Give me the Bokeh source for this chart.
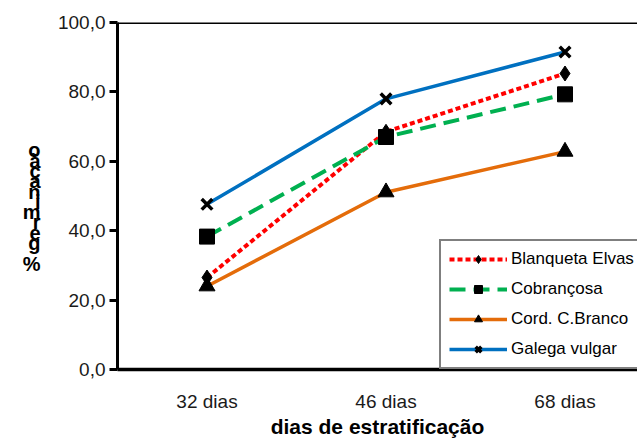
from bokeh.plotting import figure
from bokeh.models import (Range1d, FixedTicker, Span, Legend, LegendItem, LinearAxis,
                          AllLabels)
from bokeh.embed import file_html
from bokeh.resources import INLINE

# Germination (%) per variety after each stratification period
periods = ["32 dias", "46 dias", "68 dias"]
blanqueta_elvas = [26.5, 68.5, 85.3]
cobrancosa = [38.3, 67.0, 79.3]
cord_c_branco = [24.0, 51.1, 62.8]
galega_vulgar = [47.6, 78.0, 91.5]

y_ticks = [0, 20, 40, 60, 80, 100]
y_title = "% germinação"
x_title = "dias de estratificação"

FONT = "Liberation Sans"

xs = [i + 0.5 for i in range(len(periods))]

p = figure(width=637, height=440, output_backend="svg", toolbar_location=None,
           x_range=Range1d(0, 2.905), y_range=Range1d(0, 100),
           min_border_left=117, min_border_right=0, min_border_top=22,
           min_border_bottom=64)
p.outline_line_color = None
p.grid.grid_line_color = None
p.background_fill_color = "white"

# y axis
p.yaxis.ticker = FixedTicker(ticks=y_ticks)
p.yaxis.major_label_overrides = {t: f"{t:.1f}".replace(".", ",") for t in y_ticks}
p.yaxis.axis_line_width = 3
p.yaxis.major_tick_line_width = 3
p.yaxis.major_tick_out = 8
p.yaxis.major_tick_in = 0
p.yaxis.minor_tick_line_color = None
p.yaxis.major_label_standoff = 4
p.yaxis.major_label_text_font = FONT
p.yaxis.major_label_text_font_size = "19px"
p.yaxis.major_label_text_color = "#1a1a1a"

# y title: characters stacked upwards, one per tick of an outer axis
unit = 100 / 354.0  # data units per pixel on the y scale
char_pos = {}
for i, ch in enumerate(y_title):
    if ch == " ":
        continue
    pos = round((376 - (268 - i * 10.5)) * unit, 3)
    char_pos[pos] = ch
title_axis = LinearAxis(ticker=FixedTicker(ticks=list(char_pos.keys())),
                        major_label_overrides=char_pos,
                        major_label_policy=AllLabels(),
                        axis_line_color=None, major_tick_line_color=None,
                        minor_tick_line_color=None,
                        major_tick_out=0, major_tick_in=0,
                        major_label_standoff=14,
                        major_label_text_font=FONT,
                        major_label_text_font_size="20px",
                        major_label_text_font_style="bold",
                        major_label_text_color="black")
p.add_layout(title_axis, "left")

# x axis
p.xaxis.ticker = FixedTicker(ticks=xs)
p.xaxis.major_label_overrides = {x: lab for x, lab in zip(xs, periods)}
p.xaxis.axis_line_width = 3.5
p.xaxis.major_tick_line_color = None
p.xaxis.minor_tick_line_color = None
p.xaxis.major_label_standoff = 15
p.xaxis.major_label_text_font = FONT
p.xaxis.major_label_text_font_size = "19px"
p.xaxis.major_label_text_color = "#1a1a1a"
p.xaxis.axis_label = x_title
p.xaxis.axis_label_text_font = FONT
p.xaxis.axis_label_text_font_size = "21px"
p.xaxis.axis_label_text_font_style = "bold"
p.xaxis.axis_label_text_color = "black"
p.xaxis.axis_label_standoff = 0

# top border of the plot area
p.add_layout(Span(location=100, dimension="width", line_color="black", line_width=3))

series = [
    ("Blanqueta Elvas", blanqueta_elvas, "#ff0000", "5 3", "diamond", 15, 4),
    ("Cobrançosa", cobrancosa, "#00b050", "16 8", "square", 15, 4),
    ("Cord. C.Branco", cord_c_branco, "#e46c0a", "solid", "triangle", 16, 3.5),
    ("Galega vulgar", galega_vulgar, "#0070c0", "solid", "x", 15, 3.5),
]

items = []
for name, vals, color, dash, marker, size, lw in series:
    ln = p.line(xs, vals, line_color=color, line_width=lw, line_dash=dash)
    if marker == "x":
        mk = p.scatter(xs, vals, marker="x", size=size, line_color="black", line_width=3.5)
    else:
        mk = p.scatter(xs, vals, marker=marker, size=size, fill_color="black",
                       line_color="black")
    items.append(LegendItem(label=name, renderers=[ln, mk]))

legend = Legend(items=items, location=(322, 0), orientation="vertical")
legend.border_line_color = "black"
legend.border_line_width = 2
legend.background_fill_color = "white"
legend.background_fill_alpha = 1
legend.label_text_font = FONT
legend.label_text_font_size = "17px"
legend.label_text_color = "black"
legend.glyph_width = 58
legend.glyph_height = 20
legend.label_height = 20
legend.spacing = 10
legend.padding = 8
legend.margin = 0
legend.label_standoff = 4
p.add_layout(legend)

open("out.html", "w").write(file_html(p, INLINE))
